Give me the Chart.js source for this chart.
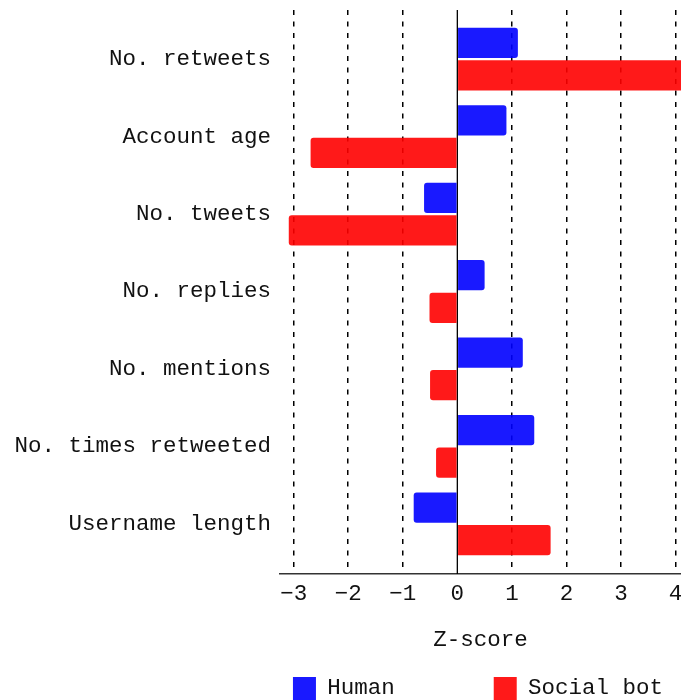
<!DOCTYPE html>
<html lang="en">
<head>
<meta charset="UTF-8">
<title>Z-scores: humans vs social bots</title>
<script src="https://cdn.jsdelivr.net/npm/chart.js"></script>
<style>
  html, body { margin: 0; padding: 0; background: #fff; overflow: hidden; }
  canvas { display: block; }
</style>
</head>
<body>
    <canvas id="zChart" width="681" height="710"></canvas>
    <script>
        // features, top to bottom
        const categories = ['No. retweets', 'Account age', 'No. tweets', 'No. replies', 'No. mentions', 'No. times retweeted', 'Username length'];
        const humanScores = [1.11, 0.90, -0.61, 0.50, 1.20, 1.41, -0.80];
        const botScores = [4.2, -2.69, -3.09, -0.51, -0.50, -0.39, 1.71];
        const xTicks = [-3, -2, -1, 0, 1, 2, 3, 4];

        const FONT = { family: '"Liberation Mono", "Courier New", monospace', size: 22.5 };

        const toPoints = arr => arr.map((v, i) => ({ x: v, y: i }));

        // solid line at zero on top of the dashed grid
        const zeroLine = {
            id: 'zeroLine',
            beforeDatasetsDraw(chart) {
                const x = chart.scales.x.getPixelForValue(0);
                const { top, bottom } = chart.chartArea;
                const c = chart.ctx;
                c.save();
                c.strokeStyle = '#000';
                c.lineWidth = 1.3;
                c.beginPath();
                c.moveTo(x, top);
                c.lineTo(x, bottom);
                c.stroke();
                c.restore();
            }
        };

        new Chart(document.getElementById('zChart'), {
            type: 'bar',
            data: {
                datasets: [
                    {
                        label: 'Human',
                        data: toPoints(humanScores),
                        backgroundColor: 'rgba(0, 0, 255, 0.9)',
                        borderRadius: 3,
                        categoryPercentage: 0.84,
                        barPercentage: 0.93
                    },
                    {
                        label: 'Social bot',
                        data: toPoints(botScores),
                        backgroundColor: 'rgba(255, 0, 0, 0.9)',
                        borderRadius: 3,
                        categoryPercentage: 0.84,
                        barPercentage: 0.93
                    }
                ]
            },
            plugins: [zeroLine],
            options: {
                responsive: false,
                animation: false,
                indexAxis: 'y',
                layout: { padding: { top: 10, left: 5.5, right: 0, bottom: 0 } },
                scales: {
                    x: {
                        type: 'linear',
                        min: -3.25,
                        max: 4.1,
                        afterBuildTicks: s => { s.ticks = xTicks.map(v => ({ value: v })); },
                        afterFit: s => { s.paddingLeft = 0; s.paddingRight = 0; },
                        grid: {
                            color: ctx => (ctx.tick && ctx.tick.value === 0) ? 'rgba(0,0,0,0)' : '#000',
                            lineWidth: 1.5,
                            drawTicks: false
                        },
                        border: {
                            display: true,
                            color: '#333',
                            width: 1.5,
                            dash: ctx => (ctx.tick ? [5, 6.5] : [])
                        },
                        ticks: {
                            color: '#111',
                            font: FONT,
                            padding: 6.5,
                            maxRotation: 0,
                            autoSkip: false,
                            callback: v => (v < 0 ? '\u2212' + Math.abs(v) : String(v))
                        },
                        title: {
                            display: true,
                            text: 'Z-score',
                            color: '#111',
                            font: FONT,
                            padding: { top: 13, bottom: 5 }
                        }
                    },
                    y: {
                        type: 'linear',
                        reverse: true,
                        offset: false,
                        min: -0.634,
                        max: 6.647,
                        afterBuildTicks: s => { s.ticks = categories.map((c, i) => ({ value: i })); },
                        afterFit: s => { s.paddingTop = 0; s.paddingBottom = 0; },
                        grid: { display: false, drawTicks: false },
                        border: { display: false },
                        ticks: {
                            color: '#111',
                            font: FONT,
                            padding: 9,
                            autoSkip: false,
                            callback: v => categories[v]
                        }
                    }
                },
                plugins: {
                    tooltip: { enabled: false },
                    legend: {
                        position: 'bottom',
                        align: 'end',
                        labels: {
                            color: '#111',
                            font: FONT,
                            boxWidth: 23,
                            boxHeight: 23,
                            padding: 18,
                            generateLabels(chart) {
                                const items = Chart.defaults.plugins.legend.labels.generateLabels(chart);
                                items[0].text = items[0].text + '      ';
                                return items;
                            }
                        }
                    }
                }
            }
        });
    </script>
</body>
</html>
